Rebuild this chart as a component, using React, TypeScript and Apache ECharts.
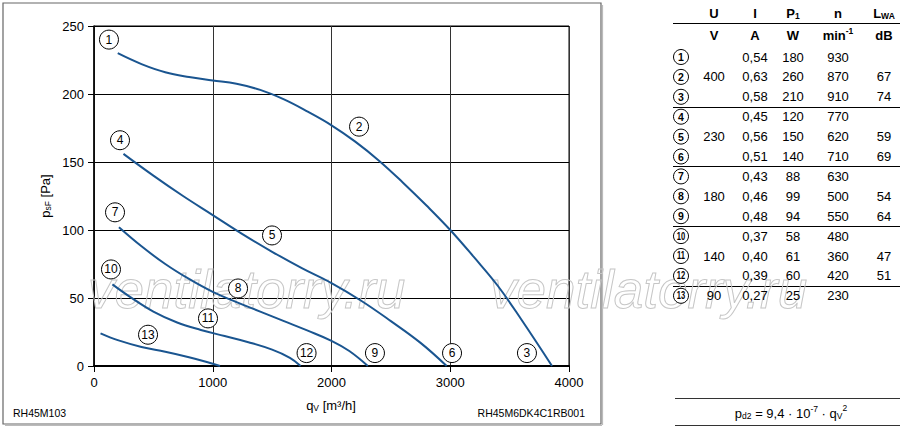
import React, { useEffect, useRef } from "react";
import * as echarts from "echarts";

const FONT = "'Liberation Sans', Arial, Helvetica, sans-serif";
const BLUE = "#1a5590";

// axes
const X_MIN = 0;
const X_MAX = 4000;
const X_STEP = 1000;
const Y_MIN = 0;
const Y_MAX = 250;
const Y_STEP = 50;

// characteristic curves [qV m3/h, psF Pa]
const curve400V = [[200, 230], [400, 222], [600, 216], [800, 212.5], [1000, 210], [1200, 207.5], [1400, 203], [1600, 196], [1800, 187], [2000, 177], [2200, 165], [2400, 151], [2600, 135], [2800, 118], [3000, 100], [3200, 80], [3400, 59], [3600, 34], [3857, 0]];
const curve230V = [[248, 156], [500, 140], [750, 125], [1000, 111], [1250, 97], [1500, 84], [1750, 72], [2000, 61], [2250, 48], [2500, 33], [2750, 17], [2970, 0]];
const curve180V = [[210, 102], [400, 88], [600, 75], [800, 64], [1000, 54.5], [1200, 47], [1400, 40], [1600, 33], [1800, 26], [2000, 18.5], [2150, 11], [2306, 0]];
const curve140V = [[155, 60], [300, 51], [500, 40], [700, 32], [900, 26.5], [1100, 22], [1300, 17.5], [1500, 12], [1650, 6], [1740, 0]];
const curve90V = [[55, 24], [200, 19], [400, 14], [600, 10.5], [800, 6.5], [950, 3], [1061, 0]];

// operating point markers
const markerNumbers = ["1", "2", "3", "4", "5", "6", "7", "8", "9", "10", "11", "12", "13"];
const markerQ = [126, 2232, 3646, 219, 1499, 3015, 177, 1213, 2366, 143, 960, 1790, 455];
const markerP = [240, 176, 9.5, 166, 96, 9.5, 113, 57, 9.5, 71, 35, 9.5, 23];

// table
const tableU = ["", "400", "", "", "230", "", "", "180", "", "", "140", "", "90"];
const tableI = ["0,54", "0,63", "0,58", "0,45", "0,56", "0,51", "0,43", "0,46", "0,48", "0,37", "0,40", "0,39", "0,27"];
const tableP1 = ["180", "260", "210", "120", "150", "140", "88", "99", "94", "58", "61", "60", "25"];
const tableN = ["930", "870", "910", "770", "620", "710", "630", "500", "550", "480", "360", "420", "230"];
const tableLWA = ["", "67", "74", "", "59", "69", "", "54", "64", "", "47", "51", ""];
const groupBreaksAfter = [3, 6, 9, 12];

const labelLeft = "RH45M103";
const labelRight = "RH45M6DK4C1RB001";

let measureCtx: CanvasRenderingContext2D | null = null;
function textWidth(t: string, size: number, bold = false) {
  if (!measureCtx) {
    const c = document.createElement("canvas");
    measureCtx = c.getContext("2d");
  }
  if (!measureCtx) return t.length * size * 0.55;
  measureCtx.font = `${bold ? "bold" : "normal"} ${size}px "Liberation Sans"`;
  return measureCtx.measureText(t).width;
}

type Piece = { t: string; size: number; dy?: number; bold?: boolean };

function txt(x: number, y: number, text: string, size: number, opts: any = {}) {
  const align = opts.align || "center";
  return {
    type: "text",
    x,
    y,
    z: opts.z ?? 10,
    scaleX: opts.scaleX ?? 1,
    silent: true,
    style: {
      text,
      fill: opts.fill || "#000",
      fontSize: size,
      fontFamily: FONT,
      fontWeight: opts.bold ? "bold" : "normal",
      fontStyle: opts.italic ? "italic" : "normal",
      stroke: opts.stroke,
      lineWidth: opts.lineWidth,
      align,
      textAlign: align,
      verticalAlign: "middle",
      textVerticalAlign: "middle",
    },
  };
}

function runs(pieces: Piece[], x0: number, y: number, align: "left" | "center" | "right") {
  const widths = pieces.map((p) => textWidth(p.t, p.size, p.bold));
  const total = widths.reduce((a, b) => a + b, 0);
  let x = align === "left" ? x0 : align === "center" ? x0 - total / 2 : x0 - total;
  return pieces.map((p, i) => {
    const el = txt(x, y + (p.dy || 0), p.t, p.size, { align: "left", bold: p.bold });
    x += widths[i];
    return el;
  });
}

function buildGraphics() {
  const g: any[] = [];
  // outer frame around chart
  g.push({ type: "rect", shape: { x: 3, y: 3, width: 598, height: 421 }, style: { fill: "none", stroke: "#666", lineWidth: 1.2 }, silent: true, z: 1 });
  g.push({ type: "line", shape: { x1: 602.5, y1: 5, x2: 602.5, y2: 425 }, style: { stroke: "#bbb", lineWidth: 1.2 }, silent: true, z: 1 });
  g.push({ type: "line", shape: { x1: 5, y1: 425.5, x2: 602, y2: 425.5 }, style: { stroke: "#bbb", lineWidth: 1.2 }, silent: true, z: 1 });

  // watermarks
  g.push(txt(88, 289, "ventilatorry.ru", 53, { align: "left", italic: true, fill: "none", stroke: "#c6c6c6", lineWidth: 1, z: 1 }));
  g.push(txt(490, 289, "ventilatorry.ru", 53, { align: "left", italic: true, fill: "none", stroke: "#c6c6c6", lineWidth: 1, z: 1 }));

  // bottom labels
  g.push(txt(13, 413, labelLeft, 10.5, { align: "left" }));
  g.push(txt(585, 413, labelRight, 10.5, { align: "right" }));

  // x axis name
  g.push(...runs([{ t: "q", size: 13 }, { t: "V", size: 8.5, dy: 3 }, { t: " [m³/h]", size: 13 }], 331, 405, "center"));

  // y axis name (rotated)
  const yPieces: Piece[] = [{ t: "p", size: 13 }, { t: "sF", size: 8.5, dy: 3 }, { t: " [Pa]", size: 13 }];
  g.push({ type: "group", x: 45, y: 196, rotation: Math.PI / 2, children: runs(yPieces, 0, 0, "center") });

  // table
  const colCircle = 681;
  const colU = 714;
  const colI = 755;
  const colP = 793;
  const colN = 838;
  const colL = 884;
  const headerY = 13;
  const unitY = 35;
  g.push(txt(colU, headerY, "U", 13, { bold: true }));
  g.push(txt(colI, headerY, "I", 13, { bold: true }));
  g.push(...runs([{ t: "P", size: 13, bold: true }, { t: "1", size: 8.5, dy: 3, bold: true }], colP, headerY, "center"));
  g.push(txt(colN, headerY, "n", 13, { bold: true }));
  g.push(...runs([{ t: "L", size: 13, bold: true }, { t: "WA", size: 8.5, dy: 3, bold: true }], colL, headerY, "center"));
  g.push(txt(colU, unitY, "V", 13, { bold: true }));
  g.push(txt(colI, unitY, "A", 13, { bold: true }));
  g.push(txt(colP, unitY, "W", 13, { bold: true }));
  g.push(...runs([{ t: "min", size: 13, bold: true }, { t: "-1", size: 8.5, dy: -4, bold: true }], colN, unitY, "center"));
  g.push(txt(colL, unitY, "dB", 13, { bold: true }));
  g.push({ type: "line", shape: { x1: 673, y1: 23.5, x2: 900, y2: 23.5 }, style: { stroke: "#000", lineWidth: 1 }, silent: true });

  const rowY = (i: number) => 57 + i * 19.9;
  markerNumbers.forEach((num, i) => {
    const y = rowY(i);
    const two = num.length > 1;
    g.push({ type: "circle", shape: { cx: colCircle, cy: y, r: 7.5 }, style: { fill: "#fff", stroke: "#000", lineWidth: 1 }, silent: true, z: 9 });
    g.push({ ...txt(0, 0, num, 10.5, { bold: true, align: "center" }), x: colCircle, y, scaleX: two ? 0.72 : 1 });
    if (tableU[i]) g.push(txt(colU, y, tableU[i], 13));
    g.push(txt(colI, y, tableI[i], 13));
    g.push(txt(colP, y, tableP1[i], 13));
    g.push(txt(colN, y, tableN[i], 13));
    if (tableLWA[i]) g.push(txt(colL, y, tableLWA[i], 13));
  });
  groupBreaksAfter.forEach((k) => {
    const y = Math.round((rowY(k - 1) + rowY(k)) / 2) + 0.5;
    g.push({ type: "line", shape: { x1: 673, y1: y, x2: 900, y2: y }, style: { stroke: "#000", lineWidth: 1 }, silent: true });
  });

  // formula box
  g.push({ type: "line", shape: { x1: 675, y1: 398.5, x2: 900, y2: 398.5 }, style: { stroke: "#333", lineWidth: 1 }, silent: true });
  g.push({ type: "line", shape: { x1: 675, y1: 425.5, x2: 900, y2: 425.5 }, style: { stroke: "#333", lineWidth: 1 }, silent: true });
  g.push(
    ...runs(
      [
        { t: "p", size: 13 },
        { t: "d2", size: 8.5, dy: 3 },
        { t: " = 9,4 · 10", size: 13 },
        { t: "-7", size: 8.5, dy: -4 },
        { t: " · q", size: 13 },
        { t: "V", size: 8.5, dy: 3 },
        { t: "2", size: 8.5, dy: -5 },
      ],
      791,
      413,
      "center"
    )
  );
  return g;
}

function lineSeries(name: string, data: number[][]) {
  return {
    type: "line",
    name,
    data,
    smooth: 0.4,
    showSymbol: false,
    symbol: "none",
    z: 3,
    lineStyle: { color: BLUE, width: 2 },
    silent: true,
  };
}

export default function App() {
  const ref = useRef<HTMLDivElement>(null);
  useEffect(() => {
    if (!ref.current) return;
    const chart = echarts.init(ref.current, undefined, { renderer: "svg" });
    const markerData = markerNumbers.map((n, i) => [markerQ[i], markerP[i], n]);
    chart.setOption({
      animation: false,
      backgroundColor: "#fff",
      grid: { left: 94, right: 331, top: 26, bottom: 63, show: true, borderColor: "#000", borderWidth: 1, backgroundColor: "transparent" },
      xAxis: {
        type: "value",
        min: X_MIN,
        max: X_MAX,
        interval: X_STEP,
        axisLine: { show: true, onZero: false, lineStyle: { color: "#000", width: 2 } },
        axisTick: { show: true, length: 6, lineStyle: { color: "#000", width: 1 } },
        axisLabel: { color: "#000", fontSize: 13, fontFamily: FONT, margin: 10, formatter: (v: number) => String(v) },
        splitLine: { show: true, lineStyle: { color: "#333", width: 1 } },
      },
      yAxis: {
        type: "value",
        min: Y_MIN,
        max: Y_MAX,
        interval: Y_STEP,
        axisLine: { show: true, lineStyle: { color: "#000", width: 1.5 } },
        axisTick: { show: true, length: 6, lineStyle: { color: "#000", width: 1 } },
        axisLabel: { color: "#000", fontSize: 13, fontFamily: FONT, margin: 10, formatter: (v: number) => String(v) },
        splitLine: { show: true, lineStyle: { color: "#000", width: 1 } },
      },
      series: [
        lineSeries("400 V", curve400V),
        lineSeries("230 V", curve230V),
        lineSeries("180 V", curve180V),
        lineSeries("140 V", curve140V),
        lineSeries("90 V", curve90V),
        {
          type: "scatter",
          data: markerData,
          symbol: "circle",
          symbolSize: 19,
          z: 5,
          silent: true,
          itemStyle: { color: "#fff", borderColor: "#000", borderWidth: 1, opacity: 1 },
          label: {
            show: true,
            position: "inside",
            formatter: (p: any) => p.value[2],
            color: "#000",
            fontSize: 12,
            fontFamily: FONT,
          },
        },
      ],
      graphic: buildGraphics(),
    });
    return () => chart.dispose();
  }, []);
  return <div ref={ref} style={{ position: "fixed", left: 0, top: 0, width: 900, height: 429, background: "#fff" }} />;
}
